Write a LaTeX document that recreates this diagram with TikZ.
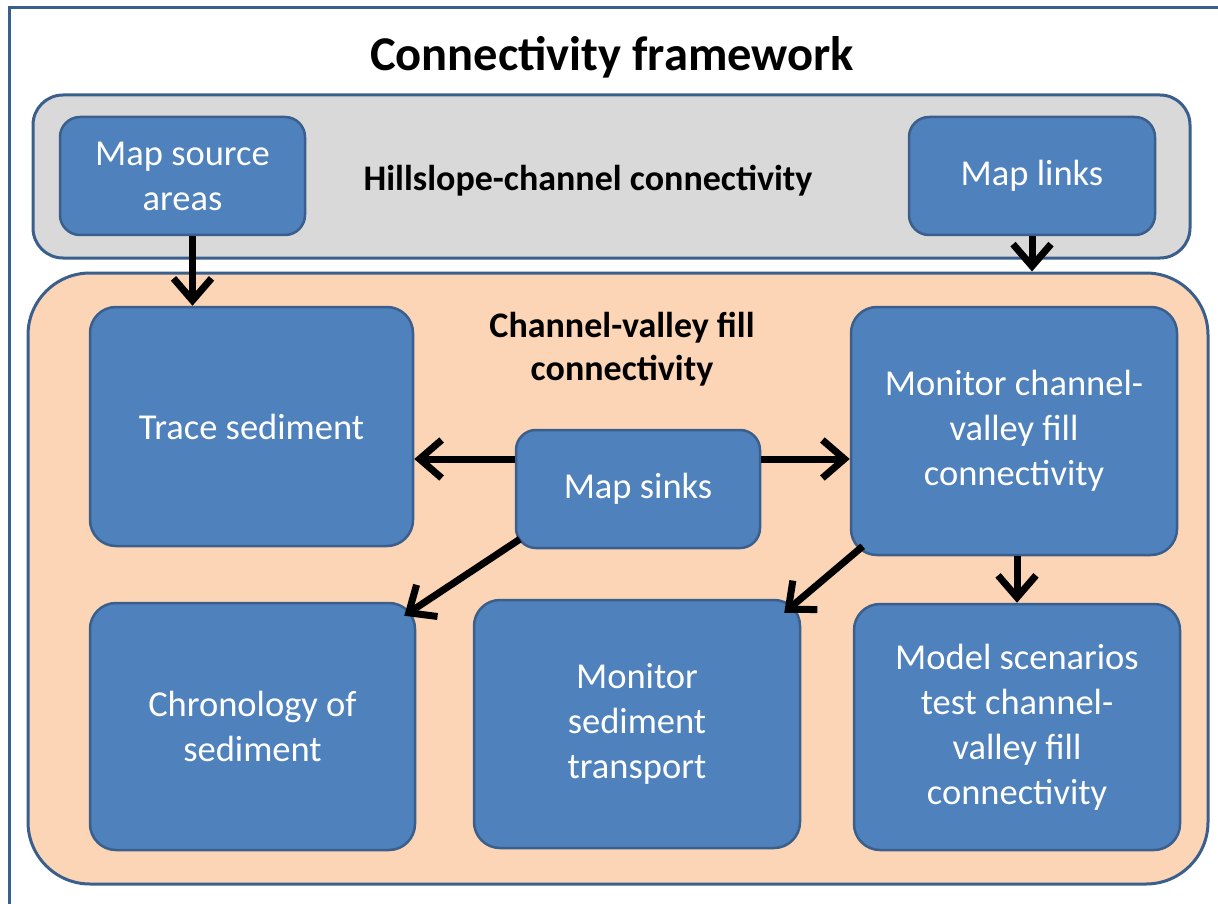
\documentclass[tikz,border=0pt]{standalone}
\usepackage{fontspec}
\setmainfont{Carlito}
\usetikzlibrary{arrows.meta,calc}
\definecolor{boxblue}{HTML}{4F81BD}
\definecolor{edgeblue}{HTML}{3A5F8C}
\definecolor{grayfill}{HTML}{D9D9D9}
\definecolor{peach}{HTML}{FBD5B5}
\begin{document}
\begin{tikzpicture}[x=1pt,y=-1pt,
  bluebox/.style={draw=edgeblue,line width=2.5pt,fill=boxblue,rounded corners=26pt,
    text=white,align=center,inner sep=0pt,
    font=\fontsize{36.5}{45}\selectfont},
  smallbox/.style={bluebox,rounded corners=20pt},
  arr/.style={line width=7pt,-{Straight Barb[length=22pt,width=38pt]}},
  lbl/.style={font=\fontsize{36}{43}\selectfont\bfseries,align=center}]
\useasboundingbox (0,0) rectangle (1218,904);
\fill[white] (0,0) rectangle (1218,904);
% outer frame
\draw[edgeblue,line width=3pt] (9,904) -- (9,8) -- (1218,8);
% title
\node[font=\fontsize{48.5}{52}\selectfont\bfseries] (title) at (612,57) {Connectivity framework};
% hillslope panel
\node[draw=edgeblue,line width=3pt,fill=grayfill,rounded corners=30pt,
  minimum width=1157pt,minimum height=163pt,inner sep=0pt] (hill) at (611.5,176.5) {};
\node[lbl] (hilllbl) at (588,181) {Hillslope-channel connectivity};
\node[smallbox,minimum width=245pt,minimum height=118pt] (src) at (182.5,176) {Map source\\areas};
\node[smallbox,minimum width=246pt,minimum height=118pt] (links) at (1032,176) {Map links};
% channel-valley panel
\node[draw=edgeblue,line width=3pt,fill=peach,rounded corners=62pt,
  minimum width=1180pt,minimum height=611pt,inner sep=0pt] (cv) at (618,578.5) {};
\node[lbl] (cvlbl) at (622,349) {Channel-valley fill\\connectivity};
\node[bluebox,minimum width=323pt,minimum height=239pt] (trace) at (251.5,426.5) {Trace sediment};
\node[smallbox,minimum width=244pt,minimum height=118pt] (sinks) at (638,489) {Map sinks};
\node[bluebox,minimum width=326pt,minimum height=248pt] (mon) at (1014,431) {Monitor channel-\\valley fill\\connectivity};
\node[bluebox,minimum width=325pt,minimum height=247pt] (chron) at (252.5,726.5) {Chronology of\\sediment};
\node[bluebox,minimum width=326pt,minimum height=248pt] (mst) at (637,724) {Monitor\\sediment\\transport};
\node[bluebox,minimum width=326pt,minimum height=246pt] (model) at (1017,727) {Model scenarios\\test channel-\\valley fill\\connectivity};
% connector end points
\coordinate (s1) at ($(src.south)+(10,0)$);
\coordinate (sl) at ($(sinks.west)+(0,-30)$);
\coordinate (sr) at ($(sinks.east)+(0,-30)$);
\coordinate (m1) at ($(mon.south)+(3,0)$);
% connectors
\draw[arr] (s1) -- (s1 |- trace.north);
\draw[arr] (links.south) -- (links.south |- cv.north);
\draw[arr] (sl) -- (sl -| trace.east);
\draw[arr] (sr) -- (sr -| mon.west);
\draw[arr] ($(sinks.south west)+(5,-10)$) -- ($(chron.north east)+(-12,14)$);
\draw[arr] ($(mon.south west)+(13,-10)$) -- ($(mst.north east)+(-17,14)$);
\draw[arr] (m1) -- (m1 |- model.north);
\end{tikzpicture}
\end{document}
